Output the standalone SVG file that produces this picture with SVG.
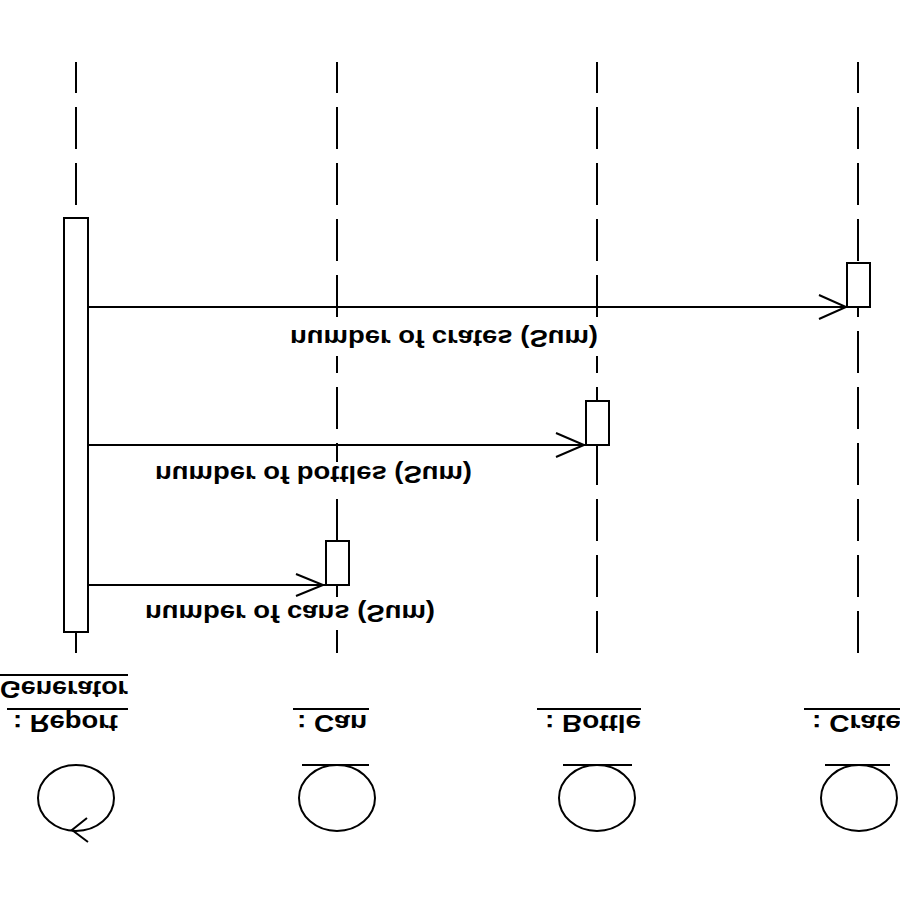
<svg xmlns="http://www.w3.org/2000/svg" width="900" height="900" viewBox="0 0 900 900">
<style>
.life{stroke:#000;stroke-width:2;stroke-dasharray:42 14;stroke-dashoffset:11;fill:none}
.act{fill:#fff;stroke:#000;stroke-width:2}
.ln{stroke:#000;stroke-width:2;fill:none}
.icon{fill:#fff;stroke:#000;stroke-width:2}
.t{font-family:"Liberation Sans",Arial,sans-serif;font-weight:bold;font-size:24px;fill:#000}
.bg{fill:#fff}
</style>
<rect width="900" height="900" fill="#fff"/>
<g id="report">
<line class="life" x1="76" y1="62" x2="76" y2="653"/>
<rect class="act" x="64" y="218" width="24" height="414"/>
<ellipse class="icon" cx="76" cy="798" rx="38" ry="33"/>
<polyline class="ln" points="87,818 72,830 88,842"/>
<text class="t" transform="translate(0,681) scale(1,-1)" textLength="128" lengthAdjust="spacingAndGlyphs">Generator</text>
<text class="t" transform="translate(13,715) scale(1,-1)" textLength="105" lengthAdjust="spacingAndGlyphs">: Report</text>
<line class="ln" x1="0" y1="675" x2="128" y2="675"/>
<line class="ln" x1="7" y1="709" x2="128" y2="709"/>
</g>
<g id="can">
<line class="life" x1="337" y1="62" x2="337" y2="653"/>
<rect class="act" x="326" y="541" width="23" height="44"/>
<ellipse class="icon" cx="337" cy="798" rx="38" ry="33"/>
<line class="ln" x1="302" y1="765" x2="369" y2="765"/>
<text class="t" transform="translate(297,715) scale(1,-1)" textLength="70" lengthAdjust="spacingAndGlyphs">: Can</text>
<line class="ln" x1="293" y1="709" x2="369" y2="709"/>
</g>
<g id="bottle">
<line class="life" x1="597" y1="62" x2="597" y2="653"/>
<rect class="act" x="586" y="401" width="23" height="44"/>
<ellipse class="icon" cx="597" cy="798" rx="38" ry="33"/>
<line class="ln" x1="563" y1="765" x2="632" y2="765"/>
<text class="t" transform="translate(545,715) scale(1,-1)" textLength="96" lengthAdjust="spacingAndGlyphs">: Bottle</text>
<line class="ln" x1="537" y1="709" x2="641" y2="709"/>
</g>
<g id="crate">
<line class="life" x1="858" y1="62" x2="858" y2="653"/>
<rect class="act" x="847" y="263" width="23" height="44"/>
<ellipse class="icon" cx="859" cy="798" rx="38" ry="33"/>
<line class="ln" x1="825" y1="765" x2="890" y2="765"/>
<text class="t" transform="translate(812,715) scale(1,-1)" textLength="89" lengthAdjust="spacingAndGlyphs">: Crate</text>
<line class="ln" x1="804" y1="709" x2="900" y2="709"/>
</g>
<g id="connectors">
<line class="ln" x1="88" y1="307" x2="847" y2="307"/>
<polyline class="ln" points="819,295 846,307 819,319"/>
<rect class="bg" x="288" y="326" width="312" height="30"/>
<text class="t" transform="translate(290,330) scale(1,-1)" textLength="308" lengthAdjust="spacingAndGlyphs">number of crates (Sum)</text>
<line class="ln" x1="88" y1="445" x2="586" y2="445"/>
<polyline class="ln" points="556,433 584,445 556,457"/>
<rect class="bg" x="153" y="462" width="321" height="30"/>
<text class="t" transform="translate(155,466) scale(1,-1)" textLength="317" lengthAdjust="spacingAndGlyphs">number of bottles (Sum)</text>
<line class="ln" x1="88" y1="585" x2="326" y2="585"/>
<polyline class="ln" points="296,574 323,585 296,596"/>
<rect class="bg" x="143" y="601" width="294" height="29"/>
<text class="t" transform="translate(145,605) scale(1,-1)" textLength="290" lengthAdjust="spacingAndGlyphs">number of cans (Sum)</text>
</g>
</svg>
